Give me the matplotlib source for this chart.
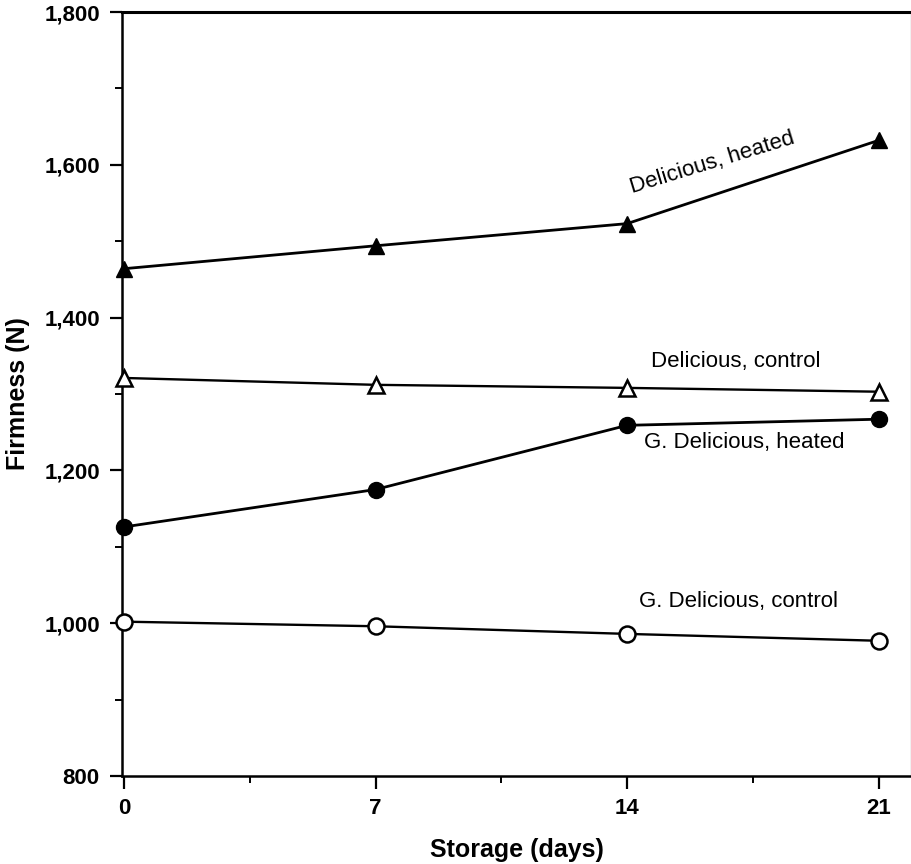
import matplotlib
matplotlib.use('Agg')
import matplotlib.pyplot as plt
from matplotlib.ticker import MultipleLocator, FuncFormatter

days = [0, 7, 14, 21]
del_heated = [1464, 1494, 1523, 1632]
del_control = [1321, 1312, 1308, 1303]
gd_heated = [1126, 1175, 1259, 1267]
gd_control = [1002, 996, 986, 977]

labels = ["Delicious, heated", "Delicious, control",
          "G. Delicious, heated", "G. Delicious, control"]
label_x = [16.37, 17.03, 17.25, 17.09]
label_y = [1603, 1342, 1236, 1029]
label_rot = [17, 0, 0, 0]

plt.rcParams['font.family'] = ['Liberation Sans', 'DejaVu Sans']

fig = plt.figure(figsize=(9.12, 8.64), dpi=100)
ax = fig.add_axes([122 / 912, 1 - 776 / 864, 789 / 912, 764 / 864])

ax.plot(days, del_heated, color='black', lw=2.0, marker='^', ms=11,
        mfc='black', mec='black', zorder=3, clip_on=False)
ax.plot(days, del_control, color='black', lw=1.7, marker='^', ms=11,
        mfc='white', mec='black', mew=1.8, zorder=3, clip_on=False)
ax.plot(days, gd_heated, color='black', lw=2.0, marker='o', ms=11.5,
        mfc='black', mec='black', zorder=3, clip_on=False)
ax.plot(days, gd_control, color='black', lw=1.7, marker='o', ms=11.5,
        mfc='white', mec='black', mew=1.8, zorder=3, clip_on=False)

for txt, x, y, r in zip(labels, label_x, label_y, label_rot):
    ax.text(x, y, txt, fontsize=16, ha='center', va='center', rotation=r,
            rotation_mode='anchor')

ax.set_xlim(-0.056, 21.9)
ax.set_ylim(800, 1800)
ax.xaxis.set_major_locator(MultipleLocator(7))
ax.xaxis.set_minor_locator(MultipleLocator(3.5))
ax.yaxis.set_major_locator(MultipleLocator(200))
ax.yaxis.set_minor_locator(MultipleLocator(100))
ax.yaxis.set_major_formatter(FuncFormatter(lambda v, p: f"{int(v):,}"))

ax.tick_params(axis='both', which='major', direction='out', length=9,
               width=1.6, labelsize=16, pad=7)
ax.tick_params(axis='both', which='minor', direction='out', length=5,
               width=1.4)
for lab in ax.get_xticklabels() + ax.get_yticklabels():
    lab.set_fontweight('bold')

ax.spines['left'].set_linewidth(1.8)
ax.spines['bottom'].set_linewidth(1.8)
ax.spines['top'].set_linewidth(2.2)
ax.spines['right'].set_linewidth(0.8)

ax.set_xlabel('Storage (days)', fontsize=18, fontweight='bold', va='center')
ax.set_ylabel('Firmness (N)', fontsize=18, fontweight='bold', va='center')
ax.xaxis.set_label_coords(0.5, (776 - 850) / 764)
ax.yaxis.set_label_coords((18 - 122) / 789, 0.5)

fig.savefig('out.png', dpi=100)
